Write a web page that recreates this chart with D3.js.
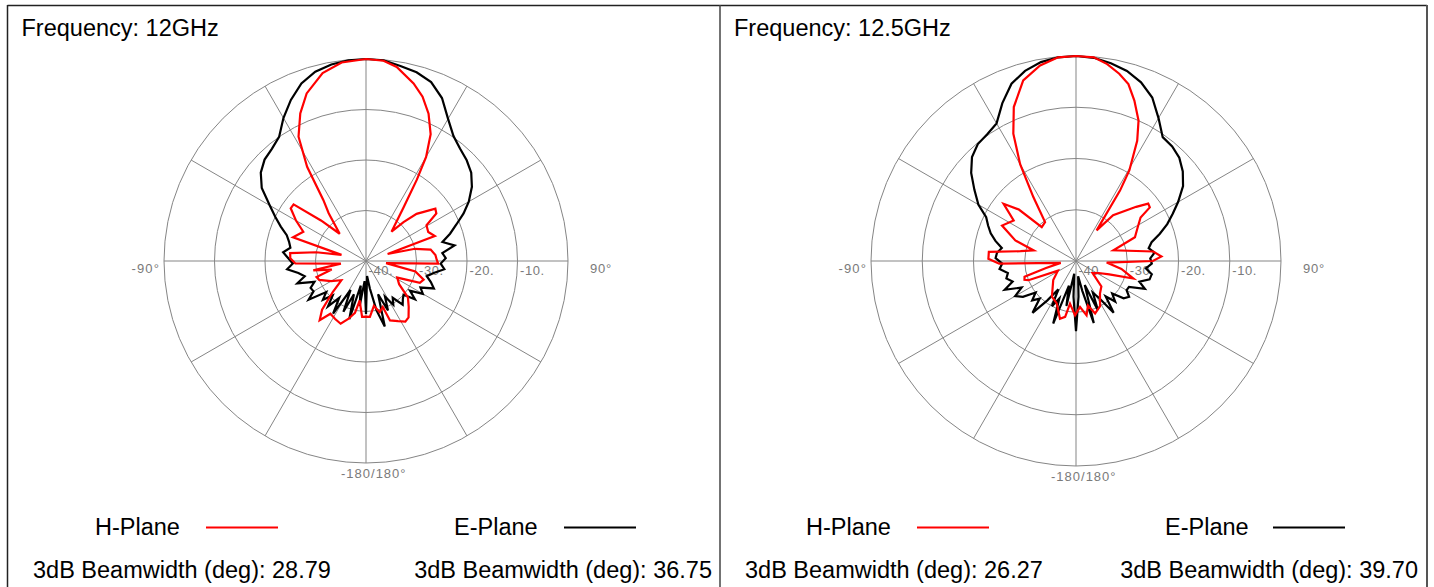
<!DOCTYPE html>
<html><head><meta charset="utf-8">
<script src="https://cdn.jsdelivr.net/npm/d3@7"></script>
<style>body{margin:0;background:#fff;}svg{display:block}</style>
</head><body>
<svg id="c" width="1434" height="587"></svg>
<script>
// ---------------- data ----------------
const frequencies = ["12GHz", "12.5GHz"];
const seriesNames = ["H-Plane", "E-Plane"];
const beamwidthH = ["28.79", "26.27"];
const beamwidthE = ["36.75", "39.70"];
const ringValues = [-40, -30, -20, -10, 0];
const ringLabels = ["-40.", "-30.", "-20.", "-10."];
const angleLabels = ["-90°", "90°", "-180/180°"];

// 12 GHz H-plane (angle deg, dB)
const hAng12 = [-180,-176,-173,-171,-168,-163,-158,-152,-146,-142,-138,-133,-128,-120,-112,-108,-104,-100,-96,-92,-88,-84,-80,-76,-72,-65,-60,-55,-52,-48,-44,-38,-35,-32,-28.5,-24,-19.5,-13,-7,0,5,9,15,19,23,27,30,32,35,41,44,47,53,56,59.5,65,70,72,76,80,85,89,92,96,102,108,112,118,125,131,137,143,147,152,158,160,165,170,176];
const hDb12  = [-29,-28.9,-31,-32.1,-29.5,-28,-26.6,-27,-27.4,-25.1,-27,-31,-33.8,-32,-30,-29.7,-33,-29.4,-35,-26,-25,-24.9,-30,-35,-24.8,-26.3,-24,-21.8,-21.8,-28,-32.5,-28,-25.3,-18,-12,-8,-4.8,-1.8,-0.4,0,-0.2,-1.1,-3.6,-5.6,-8.3,-11.8,-16.2,-21,-27,-32.3,-29.3,-26.3,-22.8,-23.2,-26.1,-26.4,-25.5,-35.5,-30,-27,-26.2,-26,-25.7,-36,-30,-28,-28.5,-33,-32,-29,-27.6,-26,-25.7,-26.5,-27.3,-30.3,-29.5,-31,-28.9];

// 12 GHz E-plane
const eAng12 = [-180,-176,-172,-168,-164,-160,-156,-152,-148,-144,-140,-136,-132,-128,-124,-120,-116,-112,-108,-104,-100,-96,-92,-88,-84,-80,-76,-72,-68,-64,-60,-55,-50,-45,-40,-35,-30,-25,-20,-15,-10,-5,0,5,10,15,20,25,30,35,40,45,50,55,60,64,68,72,76,80,84,88,92,96,100,104,108,112,116,120,124,128,132,136,140,144,148,152,156,160,164,168,172,176];
const eDb12  = [-29.5,-36,-31,-35,-28,-33,-29,-33.5,-27.7,-31,-28.3,-30.5,-28.5,-30,-26.3,-28,-27.8,-29,-25.7,-27.5,-26.4,-24.3,-25.5,-24.6,-23.5,-24.8,-24.3,-23.5,-21.8,-20,-18,-14.8,-12.8,-11.6,-11,-10,-7.3,-4.8,-2.6,-1.2,-0.5,-0.1,0,-0.1,-0.8,-1.3,-2.3,-4.4,-7.5,-9.8,-11,-11.8,-12.8,-14.4,-16.5,-18.5,-20.7,-22.5,-24.4,-22.2,-24.8,-24.2,-25.2,-24.4,-26.4,-27.6,-26.5,-25.5,-28,-27,-29.5,-27.7,-30,-29.5,-28.7,-31,-29.8,-32,-29.3,-33,-26.5,-30,-34.5,-37];

// 12.5 GHz H-plane
const hAng125 = [-179,-172,-169,-164.5,-155.6,-146,-130,-118,-112,-110,-107,-103,-97,-92,-88.5,-84,-80,-76,-71.3,-64.4,-57,-51.7,-48,-45.3,-38.5,-33.7,-30,-26.2,-22,-16.3,-10.4,-5,0,5,9,13,16.5,20,24,27,30.5,32,34,39,48,51.5,54,56,61,68,74,83,87,90,93,100,107,112,118,126,135,143.7,152,160,165,169,175];
const hDb125  = [-29.4,-31.6,-28.9,-28.3,-30.9,-31.6,-34.2,-36,-30,-29.3,-29.5,-34,-37,-25,-22.9,-22.9,-29,-31.5,-27.5,-24,-25.5,-22,-25,-30.6,-30.3,-25,-18.2,-12.3,-7.6,-3.3,-1.2,-0.1,0,-0.1,-1.1,-2.5,-4,-6.7,-10,-13.7,-19.5,-23.8,-32.8,-28.5,-24.2,-22,-22.2,-24.8,-26.2,-27.6,-32.4,-24.8,-23.3,-25,-34,-31,-28.3,-33,-35,-36,-33,-32.1,-30,-29.1,-31,-29.2,-31];

// 12.5 GHz E-plane
const eAng125 = [-180,-176,-172,-168,-164,-160,-156,-152,-148,-144,-140,-136,-132,-128,-124,-120,-116,-112,-108,-104,-100,-96,-92,-88,-84,-80,-76,-72,-68,-64,-60,-55,-50,-45,-40,-35,-30,-25,-20,-15,-10,-5,0,5,10,15,20,25,30,35,40,45,50,55,60,64,68,72,76,80,84,88,92,96,100,104,108,112,116,120,124,128,132,136,140,144,148,152,156,160,164,168,172,176];
const eDb125  = [-26.3,-33,-37.5,-31,-35,-27,-32,-30,-33.5,-30.5,-26.8,-29.8,-28.5,-30,-27.5,-26.3,-28.2,-25,-27,-26,-26.5,-25,-25.6,-24.3,-24.5,-25.3,-23.8,-22.5,-21.5,-20.5,-18,-15.8,-13.3,-11.3,-10.2,-9.8,-9,-6,-3.2,-1.6,-0.6,-0.1,0,-0.2,-0.8,-1.6,-2.9,-4.8,-7.8,-10.5,-10.8,-11.5,-12.8,-14.5,-17,-19,-20.8,-22.8,-24.8,-25.6,-24.6,-25.5,-25.2,-26.3,-25,-25.2,-27,-25.5,-28.5,-28.6,-27.5,-28.2,-30.5,-29,-31,-27.5,-31.5,-33,-29.5,-35,-27.4,-34,-37,-33];

// ---------------- drawing ----------------
const svg = d3.select("#c");
svg.append("rect").attr("width", 1434).attr("height", 587).attr("fill", "#fff");

const panels = [
  {cx: 366, cy: 261, R: 202, h: [hAng12, hDb12], e: [eAng12, eDb12], f: frequencies[0], bh: beamwidthH[0], be: beamwidthE[0],
   tx: 21.5, hx: 95, hl: 206, ex: 454, el: 564, b1: 33, b2end: 712},
  {cx: 1076, cy: 261, R: 205, h: [hAng125, hDb125], e: [eAng125, eDb125], f: frequencies[1], bh: beamwidthH[1], be: beamwidthE[1],
   tx: 734, hx: 806, hl: 917, ex: 1165, el: 1273, b1: 745, b2end: 1418}
];

const rad = d => d * Math.PI / 180;
const gridCol = "#858585";
const FONT = "'Liberation Sans', Arial, Helvetica, sans-serif";

// frame
const frame = svg.append("g").attr("fill", "none");
frame.append("line").attr("x1", 7.5).attr("x2", 1427).attr("y1", 5.5).attr("y2", 5.5).attr("stroke", "#222").attr("stroke-width", 1.5);
frame.append("line").attr("x1", 7.5).attr("x2", 7.5).attr("y1", 5).attr("y2", 587).attr("stroke", "#222").attr("stroke-width", 1.5);
frame.append("line").attr("x1", 720).attr("x2", 720).attr("y1", 5).attr("y2", 587).attr("stroke", "#444").attr("stroke-width", 1.5);
frame.append("line").attr("x1", 1427).attr("x2", 1427).attr("y1", 5).attr("y2", 587).attr("stroke", "#555").attr("stroke-width", 2);

panels.forEach(p => {
  const g = svg.append("g");
  const r = d3.scaleLinear().domain([ringValues[0], ringValues[ringValues.length - 1]]).range([0, p.R]).clamp(true);

  // rings
  g.selectAll("circle.ring").data(ringValues.slice(1)).join("circle")
    .attr("cx", p.cx).attr("cy", p.cy).attr("r", d => r(d))
    .attr("fill", "none").attr("stroke", gridCol).attr("stroke-width", 1);
  // spokes every 30 deg
  g.selectAll("line.spoke").data(d3.range(0, 360, 30)).join("line")
    .attr("x1", p.cx).attr("y1", p.cy)
    .attr("x2", d => p.cx + p.R * Math.sin(rad(d)))
    .attr("y2", d => p.cy - p.R * Math.cos(rad(d)))
    .attr("stroke", gridCol).attr("stroke-width", 1);

  // ring labels
  g.selectAll("text.rl").data(ringLabels).join("text")
    .attr("x", (d, i) => p.cx + r(ringValues[i]) + 2.5)
    .attr("y", p.cy + 14)
    .attr("font-family", FONT).attr("font-size", 13).attr("letter-spacing", 0.6)
    .attr("fill", "#7a7a7a").text(d => d);

  // angle labels
  g.append("text").attr("x", p.cx - p.R - 4).attr("y", p.cy + 12).attr("text-anchor", "end")
    .attr("font-family", FONT).attr("font-size", 13).attr("letter-spacing", 1.1).attr("fill", "#7a7a7a").text(angleLabels[0]);
  g.append("text").attr("x", p.cx + p.R + 22).attr("y", p.cy + 12).attr("text-anchor", "start")
    .attr("font-family", FONT).attr("font-size", 13).attr("letter-spacing", 0.8).attr("fill", "#7a7a7a").text(angleLabels[1]);
  g.append("text").attr("x", p.cx - 25).attr("y", p.cy + p.R + 15).attr("text-anchor", "start")
    .attr("font-family", FONT).attr("font-size", 13).attr("letter-spacing", 1.0).attr("fill", "#7a7a7a").text(angleLabels[2]);
});

// patterns
panels.forEach(p => {
  const r = d3.scaleLinear().domain([ringValues[0], ringValues[ringValues.length - 1]]).range([0, p.R]).clamp(true);
  const g = svg.append("g").attr("transform", `translate(${p.cx},${p.cy})`);
  const line = d3.lineRadial().angle(d => rad(d[0])).radius(d => r(d[1])).curve(d3.curveLinearClosed);
  const eData = p.e[0].map((a, i) => [a, p.e[1][i]]);
  const hData = p.h[0].map((a, i) => [a, p.h[1][i]]);
  g.append("path").attr("d", line(eData)).attr("fill", "none").attr("stroke", "#000").attr("stroke-width", 2.2).attr("stroke-linejoin", "miter");
  g.append("path").attr("d", line(hData)).attr("fill", "none").attr("stroke", "#ff0000").attr("stroke-width", 2.2).attr("stroke-linejoin", "miter");
});

// texts
panels.forEach(p => {
  const g = svg.append("g").attr("font-family", FONT).attr("fill", "#000");
  g.append("text").attr("x", p.tx).attr("y", 36).attr("font-size", 23.5).text("Frequency: " + p.f);
  g.append("text").attr("x", p.hx).attr("y", 535).attr("font-size", 23.5).text(seriesNames[0]);
  g.append("line").attr("x1", p.hl).attr("x2", p.hl + 72).attr("y1", 527.5).attr("y2", 527.5).attr("stroke", "#ff0000").attr("stroke-width", 2);
  g.append("text").attr("x", p.ex).attr("y", 535).attr("font-size", 23.5).text(seriesNames[1]);
  g.append("line").attr("x1", p.el).attr("x2", p.el + 72).attr("y1", 527.5).attr("y2", 527.5).attr("stroke", "#000").attr("stroke-width", 2);
  g.append("text").attr("x", p.b1).attr("y", 578).attr("font-size", 23.5).text("3dB Beamwidth (deg): " + p.bh);
  g.append("text").attr("x", p.b2end).attr("y", 578).attr("text-anchor", "end").attr("font-size", 23.5).text("3dB Beamwidth (deg): " + p.be);
});
</script>
</body></html>
